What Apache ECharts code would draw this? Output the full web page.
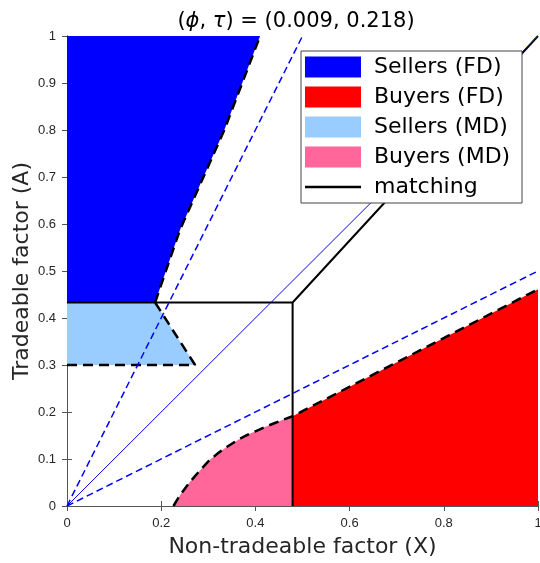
<!DOCTYPE html>
<html>
<head>
<meta charset="utf-8">
<script src="https://cdn.jsdelivr.net/npm/echarts@6/dist/echarts.min.js"></script>
<style>html,body{margin:0;padding:0;background:#fff;}#c{width:540px;height:563px;}</style>
</head>
<body>
<div id="c"></div>
<script>
// ---- data ----
const xTicks = [0, 0.2, 0.4, 0.6, 0.8, 1];
const yTicks = [0, 0.1, 0.2, 0.3, 0.4, 0.5, 0.6, 0.7, 0.8, 0.9, 1];
const matchA = 0.433;      // horizontal matching threshold (A)
const matchX = 0.479;      // vertical matching threshold (X)
// boundary of Sellers (FD) region (from lower-left corner to top edge)
const sellersFDEdge = [[0.187, 0.433], [0.24, 0.588], [0.334, 0.80], [0.41, 1]];
// boundary of Sellers (MD) region
const sellersMDEdge = [[0, 0.3], [0.272, 0.3], [0.187, 0.433]];
// boundary of Buyers (MD) region (curve)
const buyersMDEdge = [[0.226, 0], [0.24, 0.023], [0.26, 0.05], [0.28, 0.073], [0.30, 0.095],
                      [0.32, 0.112], [0.34, 0.126], [0.36, 0.139], [0.38, 0.150], [0.40, 0.159],
                      [0.42, 0.168], [0.44, 0.176], [0.46, 0.184], [0.479, 0.191]];
// boundary of Buyers (FD) region
const buyersFDEdge = [[0.479, 0.191], [1, 0.461]];
// matching path
const matchingPath = [[0, matchA], [matchX, matchA], [matchX, 0], [matchX, matchA], [1, 1]];
// reference rays
const rayDiag = [[0, 0], [1, 1]];
const raySteep = [[0, 0], [0.5, 1]];
const rayFlat = [[0, 0], [1, 0.5]];

// ---- polygons built from the edges ----
const polySellersFD = [[0, matchA]].concat(sellersFDEdge, [[0, 1]]);
const polySellersMD = [[0, 0.3]].concat(sellersMDEdge.slice(1), [[0, matchA]]);
const polyBuyersMD = buyersMDEdge.concat([[matchX, 0]]);
const polyBuyersFD = [[matchX, 0]].concat(buyersFDEdge, [[1, 0]]);

const chart = echarts.init(document.getElementById('c'), null, {renderer: 'canvas'});

function polySeries(name, pts, color) {
  return {
    name: name, type: 'custom', coordinateSystem: 'cartesian2d',
    itemStyle: {color: color},
    data: pts, encode: {x: 0, y: 1},
    silent: true,
    renderItem: function (params, api) {
      if (params.dataIndex !== 0) return null;
      return {type: 'polygon', shape: {points: pts.map(p => api.coord(p))},
              style: {fill: color, stroke: null}};
    }
  };
}
function lineSeries(name, pts, color, width, type) {
  return {
    name: name, type: 'line', data: pts, showSymbol: false, symbol: 'none',
    silent: true, color: color,
    lineStyle: {color: color, width: width, type: type}
  };
}

const tickFont = {fontFamily: 'Liberation Sans', fontSize: 13, color: '#262626'};
const nameFont = {fontFamily: 'DejaVu Sans', fontSize: 22, color: '#262626'};
const axLine = {show: true, lineStyle: {color: '#555', width: 1}};

const option = {
  animation: false,
  title: {
    text: '({i|ϕ}, {i|τ}) = (0.009, 0.218)',
    left: 291, top: 6, textAlign: 'center',
    textStyle: {fontFamily: 'DejaVu Sans', fontSize: 21, fontWeight: 'normal', color: '#000',
      rich: {i: {fontFamily: 'DejaVu Sans', fontSize: 21, fontStyle: 'italic', color: '#000'}}}
  },
  grid: {left: 67, right: 2, top: 36, bottom: 57, outerBoundsMode: 'none', containLabel: false},
  legend: {
    left: 301, top: 51, orient: 'vertical',
    padding: [5, 4, 5, 4], itemGap: 8, itemWidth: 56, itemHeight: 21,
    backgroundColor: '#fff', borderColor: '#444', borderWidth: 1,
    textStyle: {fontFamily: 'DejaVu Sans', fontSize: 22, color: '#000', lineHeight: 21,
                padding: [0, 0, 0, 8], width: 144},
    selectedMode: false,
    data: [
      {name: 'Sellers (FD)', icon: 'rect'},
      {name: 'Buyers (FD)', icon: 'rect'},
      {name: 'Sellers (MD)', icon: 'rect'},
      {name: 'Buyers (MD)', icon: 'rect'},
      {name: 'matching', icon: 'path://M0,0 L56,0 L56,2.5 L0,2.5 Z'}
    ]
  },
  xAxis: [{
    type: 'value', min: 0, max: 1, interval: 0.2,
    name: 'Non-tradeable factor (X)', nameLocation: 'middle', nameGap: 30, nameMoveOverlap: false,
    nameTextStyle: nameFont,
    axisLine: axLine, axisTick: {show: true, inside: true, length: 5, lineStyle: {color: '#555'}},
    axisLabel: Object.assign({margin: 11}, tickFont), splitLine: {show: false}
  }, {
    type: 'value', min: 0, max: 1, interval: 0.2, position: 'top',
    axisLine: axLine, axisTick: {show: true, inside: true, length: 5, lineStyle: {color: '#555'}},
    axisLabel: {show: false}, splitLine: {show: false}
  }],
  yAxis: [{
    type: 'value', min: 0, max: 1, interval: 0.1,
    name: 'Tradeable factor (A)', nameLocation: 'middle', nameGap: 34, nameRotate: 90,
    nameMoveOverlap: false, nameTextStyle: nameFont,
    axisLine: axLine, axisTick: {show: true, inside: true, length: 5, lineStyle: {color: '#555'}},
    axisLabel: Object.assign({margin: 11}, tickFont), splitLine: {show: false}
  }, {
    type: 'value', min: 0, max: 1, interval: 0.1, position: 'right',
    axisLine: axLine, axisTick: {show: true, inside: true, length: 5, lineStyle: {color: '#555'}},
    axisLabel: {show: false}, splitLine: {show: false}
  }],
  series: [
    polySeries('Sellers (FD)', polySellersFD, '#0000ff'),
    polySeries('Buyers (FD)', polyBuyersFD, '#ff0000'),
    polySeries('Sellers (MD)', polySellersMD, '#99ccff'),
    polySeries('Buyers (MD)', polyBuyersMD, '#ff6699'),
    lineSeries('sfdEdge', sellersFDEdge, '#000', 2.5, [10, 6]),
    lineSeries('smdEdge', sellersMDEdge, '#000', 2.5, [10, 6]),
    lineSeries('bmdEdge', buyersMDEdge.concat(buyersFDEdge.slice(1)), '#000', 2.5, [10, 6]),
    lineSeries('matching', matchingPath, '#000', 2, 'solid'),
    lineSeries('raySteep', raySteep, '#0000ff', 1.5, [7, 4]),
    lineSeries('rayFlat', rayFlat, '#0000ff', 1.5, [7, 4]),
    lineSeries('rayDiag', rayDiag, '#0000ff', 1, 'solid')
  ]
};
chart.setOption(option);
</script>
</body>
</html>
